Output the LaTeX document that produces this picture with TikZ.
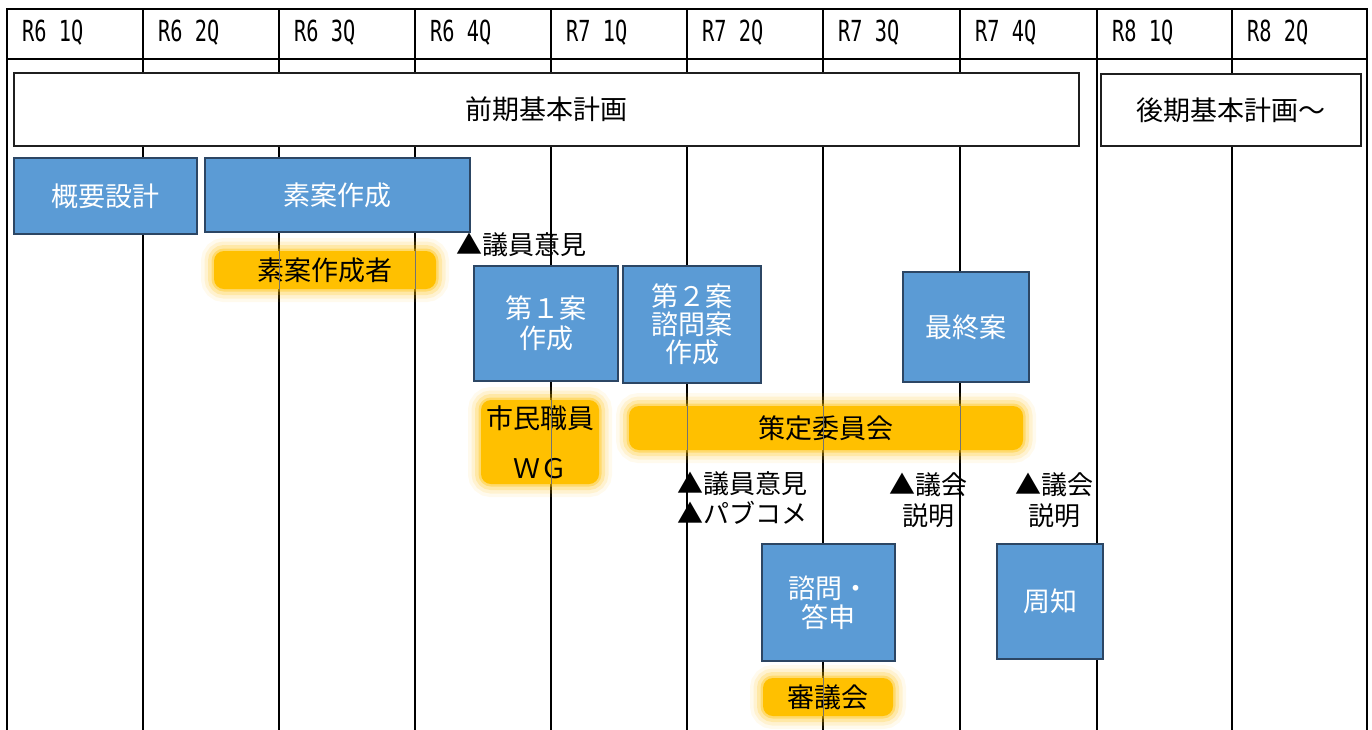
\documentclass[tikz,border=0pt]{standalone}
\usepackage{fontspec}
\setmainfont{Noto Sans CJK JP}
\newfontfamily\hdrfont[FakeStretch=0.70]{DejaVu Sans Mono}
\definecolor{boxblue}{RGB}{91,155,213}
\definecolor{boxedge}{RGB}{44,70,100}
\definecolor{glowor}{RGB}{255,192,0}
\tikzset{
  gridline/.style={line width=2pt, black},
  thinline/.style={line width=1pt, black!55},
  hdr/.style={font=\hdrfont\fontsize{29}{32}\selectfont, anchor=base west, inner sep=0pt},
  planbox/.style={draw=black!88, line width=2.5pt, fill=white, font=\fontsize{27}{30}\selectfont, inner sep=0pt},
  bluebox/.style={draw=boxedge, line width=2.5pt, fill=boxblue, text=white, font=\fontsize{27}{30}\selectfont, align=center, inner sep=2pt},
  glowbox/.style={fill=glowor, rounded corners=10pt, inner sep=0pt,
    font=\fontsize{27}{30}\selectfont, align=center,
    preaction={draw=glowor, draw opacity=0.07, line width=26pt},
    preaction={draw=glowor, draw opacity=0.12, line width=19pt},
    preaction={draw=glowor, draw opacity=0.20, line width=12pt},
    preaction={draw=glowor, draw opacity=0.35, line width=5pt}},
  note/.style={font=\fontsize{26}{30}\selectfont, inner sep=0pt, text=black}
}
\begin{document}
\begin{tikzpicture}[x=1pt,y=-1pt]
\useasboundingbox (0,0) rectangle (1372,729);
\fill[white] (0,0) rectangle (1372,729);
% grid
\foreach \x in {7,143,279,415,551,687,823,960,1097,1232,1367}
  \draw[gridline] (\x,9) -- (\x,730);
\draw[gridline] (6,9) -- (1368,9);
\draw[gridline] (6,59) -- (1368,59);
% header labels
\node[hdr] (h1) at (22,41) {R6 1Q};
\node[hdr] (h2) at (158,41) {R6 2Q};
\node[hdr] (h3) at (294,41) {R6 3Q};
\node[hdr] (h4) at (430,41) {R6 4Q};
\node[hdr] (h5) at (566,41) {R7 1Q};
\node[hdr] (h6) at (702,41) {R7 2Q};
\node[hdr] (h7) at (838,41) {R7 3Q};
\node[hdr] (h8) at (975,41) {R7 4Q};
\node[hdr] (h9) at (1112,41) {R8 1Q};
\node[hdr] (h10) at (1247,41) {R8 2Q};
% plan boxes
\node[planbox, minimum width=1065pt, minimum height=73pt] (planA) at (546.5,109.5) {前期基本計画};
\node[planbox, minimum width=260pt, minimum height=72pt] (planB) at (1231,110) {後期基本計画～};
% glows
\node[glowbox, minimum width=222pt, minimum height=38pt] (soansha) at (325,270) {素案作成者};
\node[glowbox, minimum width=118pt, minimum height=84pt] (wg) at (540,442) {市民職員\\[20pt]ＷＧ};
\node[glowbox, minimum width=394pt, minimum height=44pt] (sakutei) at (826,428) {策定委員会};
\node[glowbox, minimum width=130pt, minimum height=38pt] (shingi) at (828,697) {審議会};
% grid seen faintly through the glows
\begin{scope}
  \clip (soansha.north west) rectangle (soansha.south east)
        (wg.north west) rectangle (wg.south east)
        (sakutei.north west) rectangle (sakutei.south east)
        (shingi.north west) rectangle (shingi.south east);
  \foreach \x in {279,415,551,687,823,960}
    \draw[thinline] (\x,236) -- (\x,729);
\end{scope}
% blue boxes
\node[bluebox, minimum width=183pt, minimum height=76pt] (gaiyo) at (105.5,196) {概要設計};
\node[bluebox, minimum width=265pt, minimum height=74pt] (soan) at (337.5,195) {素案作成};
\node[bluebox, minimum width=144pt, minimum height=115pt] (dai1) at (546,323.5) {第１案\\作成};
\node[bluebox, minimum width=138pt, minimum height=117pt, font=\fontsize{27}{28}\selectfont] (dai2) at (692,324.5) {第２案\\諮問案\\作成};
\node[bluebox, minimum width=126pt, minimum height=110pt] (saishu) at (966,327) {最終案};
\node[bluebox, minimum width=133pt, minimum height=117pt, font=\fontsize{27}{29}\selectfont] (shimon) at (828.5,602.5) {諮問・\\答申};
\node[bluebox, minimum width=106pt, minimum height=115pt] (shuchi) at (1050,601.5) {周知};
% notes
\node[note, anchor=west] (giin1) at (456,245) {▲議員意見};
\node[note, anchor=west, align=left] (giin2) at (677,498) {▲議員意見\\▲パブコメ};
\node[note, align=center, font=\fontsize{26}{31}\selectfont] (gikai1) at (928,500) {▲議会\\説明};
\node[note, align=center, font=\fontsize{26}{31}\selectfont] (gikai2) at (1054,500) {▲議会\\説明};
\end{tikzpicture}
\end{document}
